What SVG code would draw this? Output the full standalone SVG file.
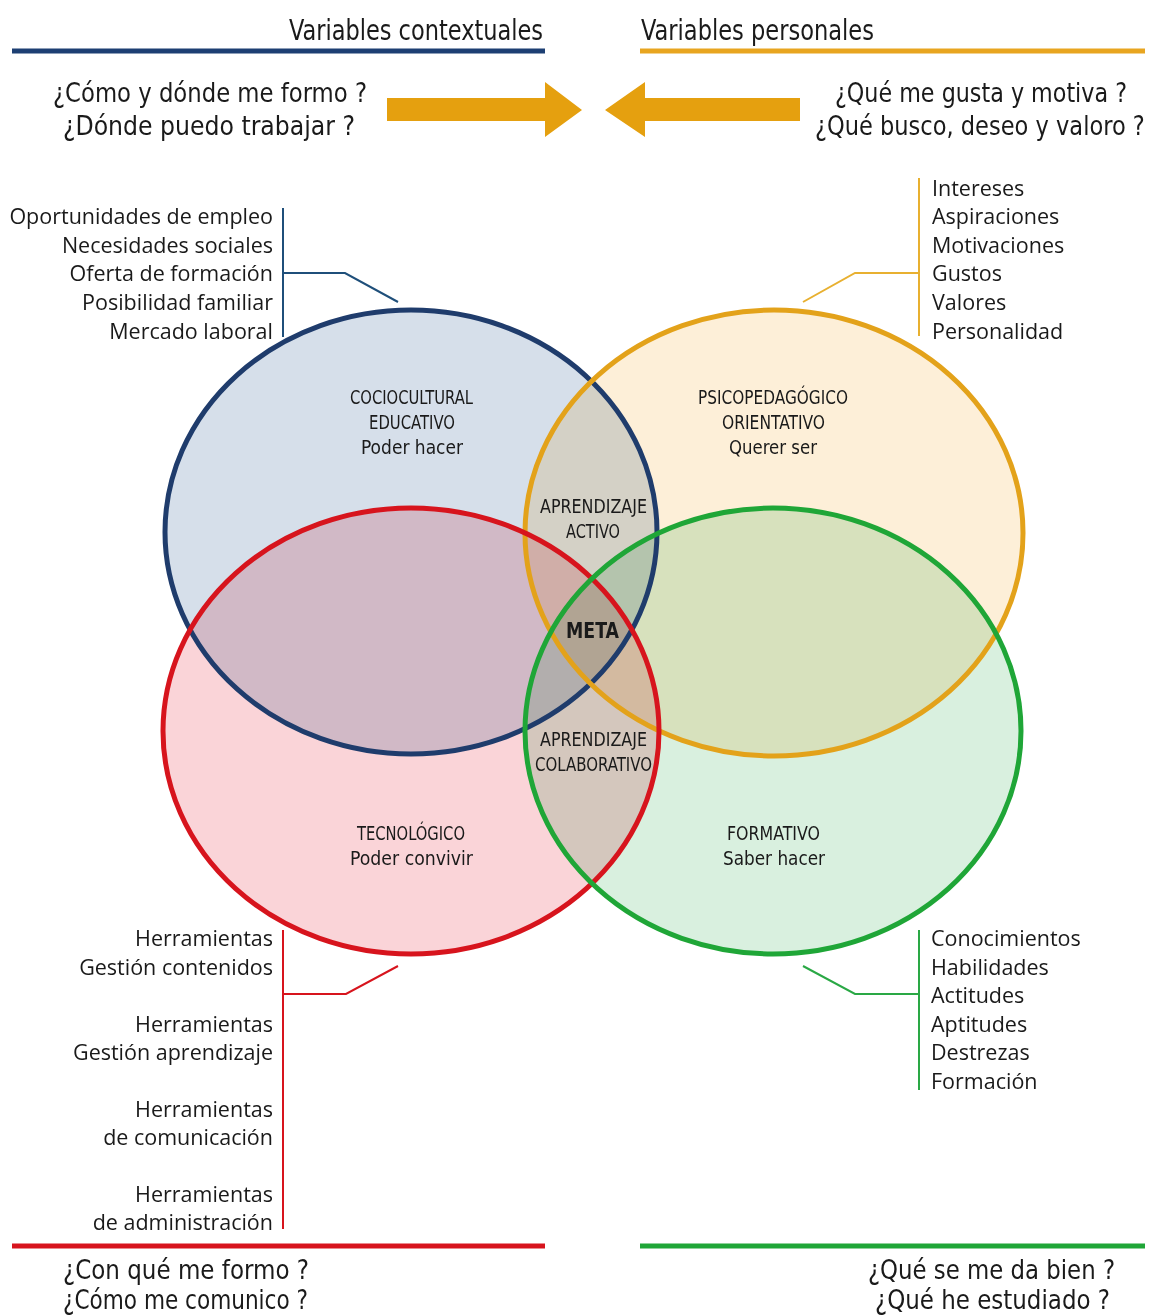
<svg xmlns="http://www.w3.org/2000/svg" width="1150" height="1315" viewBox="0 0 1150 1315">
<style>
.t{font-family:"Liberation Sans Narrow","DejaVu Sans Condensed","Liberation Sans",sans-serif;fill:#1a1a1a}
.h{font-size:29px}
.q{font-size:27px}
.l{font-family:"Open Sans","Liberation Sans",sans-serif;font-size:21.5px;fill:#1a1a1a}
.r{text-anchor:end}
.c{font-family:"DejaVu Sans Condensed","Liberation Sans",sans-serif;font-size:19px;fill:#1a1a1a}
.fill{mix-blend-mode:multiply}
.ring{fill:none;stroke-width:5}
.ln{fill:none;stroke-width:2}
</style>
<rect width="1150" height="1315" fill="#ffffff"/>
<g id="headers">
<text class="t h" x="289" y="40" textLength="254" lengthAdjust="spacingAndGlyphs">Variables contextuales</text>
<line x1="12" y1="51" x2="545" y2="51" stroke="#1d3f73" stroke-width="5"/>
<text class="t h" x="641" y="40" textLength="233" lengthAdjust="spacingAndGlyphs">Variables personales</text>
<line x1="640" y1="51" x2="1145" y2="51" stroke="#e8a520" stroke-width="5"/>
<text class="t q" x="53" y="102" textLength="314" lengthAdjust="spacingAndGlyphs">¿Cómo y dónde me formo ?</text>
<text class="t q" x="63" y="135" textLength="292" lengthAdjust="spacingAndGlyphs">¿Dónde puedo trabajar ?</text>
<text class="t q" transform="translate(835,102) scale(0.85,1)" textLength="343.5" lengthAdjust="spacingAndGlyphs">¿Qué me gusta y motiva ?</text>
<text class="t q" transform="translate(815,135) scale(0.85,1)" textLength="388" lengthAdjust="spacingAndGlyphs">¿Qué busco, deseo y valoro ?</text>
<polygon points="387,98 545,98 545,82 582,110 545,137 545,121 387,121" fill="#e5a00f"/>
<polygon points="800,98 645,98 645,82 605,110 645,137 645,121 800,121" fill="#e5a00f"/>
<line x1="12" y1="1246" x2="545" y2="1246" stroke="#d7141d" stroke-width="5"/>
<line x1="640" y1="1246" x2="1145" y2="1246" stroke="#1fa637" stroke-width="5"/>
<text class="t q" x="63" y="1279" textLength="246" lengthAdjust="spacingAndGlyphs">¿Con qué me formo ?</text>
<text class="t q" x="63" y="1309" textLength="245" lengthAdjust="spacingAndGlyphs">¿Cómo me comunico ?</text>
<text class="t q" x="868" y="1279" textLength="247" lengthAdjust="spacingAndGlyphs">¿Qué se me da bien ?</text>
<text class="t q" x="875" y="1309" textLength="235" lengthAdjust="spacingAndGlyphs">¿Qué he estudiado ?</text>
</g>
<g id="fills">
<ellipse class="fill" cx="411" cy="532" rx="246" ry="222" fill="#d6dfea"/>
<ellipse class="fill" cx="774" cy="533" rx="249" ry="223" fill="#fdefd8"/>
<ellipse class="fill" cx="411" cy="731" rx="248" ry="223" fill="#fad4d8"/>
<ellipse class="fill" cx="773" cy="731" rx="248" ry="223" fill="#d9f0df"/>
</g>
<g id="node-cociocultural">
<ellipse class="ring" cx="411" cy="532" rx="246" ry="222" stroke="#1f3c6c"/>
<text class="c" x="350" y="404" textLength="123" lengthAdjust="spacingAndGlyphs">COCIOCULTURAL</text>
<text class="c" x="369" y="429" textLength="86" lengthAdjust="spacingAndGlyphs">EDUCATIVO</text>
<text class="c" x="361" y="454" textLength="102" lengthAdjust="spacingAndGlyphs">Poder hacer</text>
</g>
<g id="node-psicopedagogico">
<ellipse class="ring" cx="774" cy="533" rx="249" ry="223" stroke="#e3a21a"/>
<text class="c" x="698" y="404" textLength="150" lengthAdjust="spacingAndGlyphs">PSICOPEDAGÓGICO</text>
<text class="c" x="722" y="429" textLength="103" lengthAdjust="spacingAndGlyphs">ORIENTATIVO</text>
<text class="c" x="729" y="454" textLength="88" lengthAdjust="spacingAndGlyphs">Querer ser</text>
</g>
<g id="node-tecnologico">
<ellipse class="ring" cx="411" cy="731" rx="248" ry="223" stroke="#d7141d"/>
<text class="c" x="357" y="840" textLength="108" lengthAdjust="spacingAndGlyphs">TECNOLÓGICO</text>
<text class="c" x="350" y="865" textLength="123" lengthAdjust="spacingAndGlyphs">Poder convivir</text>
</g>
<g id="node-formativo">
<ellipse class="ring" cx="773" cy="731" rx="248" ry="223" stroke="#1fa637"/>
<text class="c" x="727" y="840" textLength="93" lengthAdjust="spacingAndGlyphs">FORMATIVO</text>
<text class="c" x="723" y="865" textLength="102" lengthAdjust="spacingAndGlyphs">Saber hacer</text>
</g>
<g id="node-activo">
<text class="c" x="540" y="513" textLength="107" lengthAdjust="spacingAndGlyphs">APRENDIZAJE</text>
<text class="c" x="566" y="538" textLength="54" lengthAdjust="spacingAndGlyphs">ACTIVO</text>
</g>
<g id="node-meta">
<text class="c" x="566" y="638" textLength="53" lengthAdjust="spacingAndGlyphs" style="font-weight:bold;font-size:21px">META</text>
</g>
<g id="node-colaborativo">
<text class="c" x="540" y="746" textLength="107" lengthAdjust="spacingAndGlyphs">APRENDIZAJE</text>
<text class="c" x="535" y="771" textLength="117" lengthAdjust="spacingAndGlyphs">COLABORATIVO</text>
</g>
<g id="list-contextual">
<text class="l r" x="273" y="224">Oportunidades de empleo</text>
<text class="l r" x="273" y="253">Necesidades sociales</text>
<text class="l r" x="273" y="281">Oferta de formación</text>
<text class="l r" x="273" y="310">Posibilidad familiar</text>
<text class="l r" x="273" y="339">Mercado laboral</text>
</g>
<g id="list-personal">
<text class="l" x="932" y="196">Intereses</text>
<text class="l" x="932" y="224">Aspiraciones</text>
<text class="l" x="932" y="253">Motivaciones</text>
<text class="l" x="932" y="281">Gustos</text>
<text class="l" x="932" y="310">Valores</text>
<text class="l" x="932" y="339">Personalidad</text>
</g>
<g id="list-tecnologico">
<text class="l r" x="273" y="946">Herramientas</text>
<text class="l r" x="273" y="975">Gestión contenidos</text>
<text class="l r" x="273" y="1032">Herramientas</text>
<text class="l r" x="273" y="1060">Gestión aprendizaje</text>
<text class="l r" x="273" y="1117">Herramientas</text>
<text class="l r" x="273" y="1145">de comunicación</text>
<text class="l r" x="273" y="1202">Herramientas</text>
<text class="l r" x="273" y="1230">de administración</text>
</g>
<g id="list-formativo">
<text class="l" x="931" y="946">Conocimientos</text>
<text class="l" x="931" y="975">Habilidades</text>
<text class="l" x="931" y="1003">Actitudes</text>
<text class="l" x="931" y="1032">Aptitudes</text>
<text class="l" x="931" y="1060">Destrezas</text>
<text class="l" x="931" y="1089">Formación</text>
</g>
<g id="connectors">
<line class="ln" x1="283" y1="208" x2="283" y2="337" stroke="#1f4f7a"/>
<polyline class="ln" points="283,273 345,273 398,302" stroke="#1f4f7a"/>
<line class="ln" x1="919" y1="178" x2="919" y2="336" stroke="#e8b030"/>
<polyline class="ln" points="919,273 855,273 803,302" stroke="#e8b030"/>
<line class="ln" x1="283" y1="930" x2="283" y2="1229" stroke="#d7141d"/>
<polyline class="ln" points="283,994 346,994 398,966" stroke="#d7141d"/>
<line class="ln" x1="919" y1="930" x2="919" y2="1090" stroke="#2aa845"/>
<polyline class="ln" points="919,994 855,994 803,966" stroke="#2aa845"/>
</g>
</svg>
